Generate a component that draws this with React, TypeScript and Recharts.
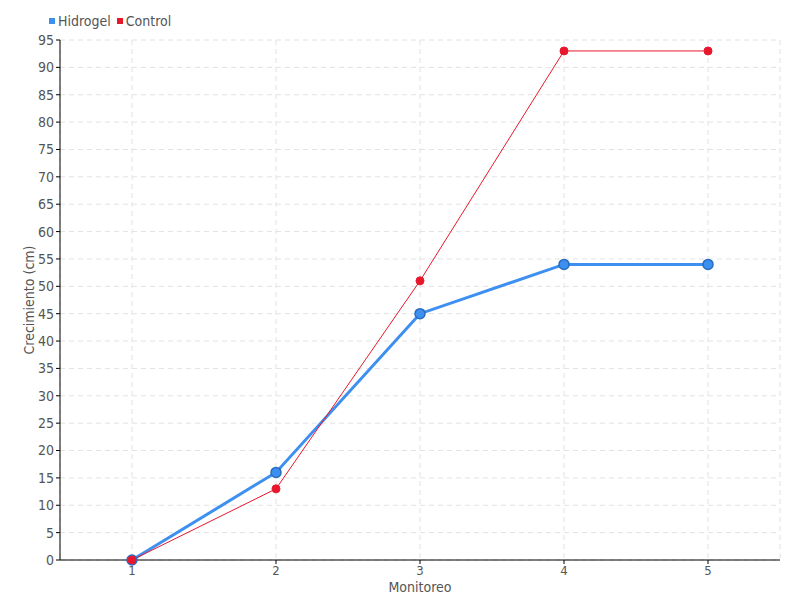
import React from "react"
import { LineChart, Line, XAxis, YAxis, CartesianGrid } from "recharts"

const monitoreos = ["1", "2", "3", "4", "5"]
const hidrogel = [0, 16, 45, 54, 54]
const control = [0, 13, 51, 93, 93]
const yTicks = [0, 5, 10, 15, 20, 25, 30, 35, 40, 45, 50, 55, 60, 65, 70, 75, 80, 85, 90, 95]

const data = monitoreos.map((m, i) => ({ m, Hidrogel: hidrogel[i], Control: control[i] }))

const FONT = "'DejaVu Sans Condensed', 'DejaVu Sans', sans-serif"
const TEXT = "#555"
const textStyle = { fontStretch: "condensed" as const }

const LegendBox = () => (
  <div
    style={{
      position: "absolute",
      top: 13,
      left: 49,
      display: "flex",
      gap: 6,
      fontFamily: FONT,
      fontStretch: "condensed",
      fontSize: 14,
      color: TEXT,
      alignItems: "center",
    }}
  >
    <span style={{ display: "flex", alignItems: "center", gap: 3 }}>
      <span style={{ width: 6, height: 6, background: "#3d8ff0", display: "inline-block" }} />
      Hidrogel
    </span>
    <span style={{ display: "flex", alignItems: "center", gap: 3 }}>
      <span style={{ width: 6, height: 6, background: "#e8182c", display: "inline-block" }} />
      Control
    </span>
  </div>
)

export default function App() {
  return (
    <div style={{ position: "fixed", top: 0, left: 0, width: 800, height: 600, background: "#fff" }}>
      <LineChart width={800} height={600} data={data} margin={{ top: 40, right: 20, bottom: 20, left: 20 }}>
        <CartesianGrid stroke="#e2e2e2" strokeDasharray="5 4" />
        <XAxis
          dataKey="m"
          height={20}
          padding={{ left: 72, right: 72 }}
          stroke="#000"
          tickLine={{ stroke: "#000" }}
          tickSize={4}
          tick={{ fill: TEXT, fontSize: 13, fontFamily: FONT, style: textStyle }}
          label={{ value: "Monitoreo", position: "insideBottom", offset: -12, fill: TEXT, fontSize: 14, fontFamily: FONT, style: textStyle }}
        />
        <YAxis
          width={40}
          domain={[0, 95]}
          ticks={yTicks}
          interval={0}
          stroke="#000"
          tickSize={4}
          tick={{ fill: TEXT, fontSize: 14, fontFamily: FONT, style: textStyle }}
          label={{ value: "Crecimiento (cm)", angle: -90, position: "insideLeft", offset: 9, fill: TEXT, fontSize: 14, fontFamily: FONT, style: { ...textStyle, textAnchor: "middle" } }}
        />
        <Line
          dataKey="Hidrogel"
          stroke="#3d8ff0"
          strokeWidth={3}
          dot={{ r: 5, fill: "#3d8ff0", stroke: "#2a6cc0", strokeWidth: 1.5 }}
          isAnimationActive={false}
        />
        <Line
          dataKey="Control"
          stroke="#e8182c"
          strokeWidth={1}
          dot={{ r: 4, fill: "#e8182c", stroke: "#e8182c", strokeWidth: 1 }}
          isAnimationActive={false}
        />
      </LineChart>
      <LegendBox />
    </div>
  )
}
